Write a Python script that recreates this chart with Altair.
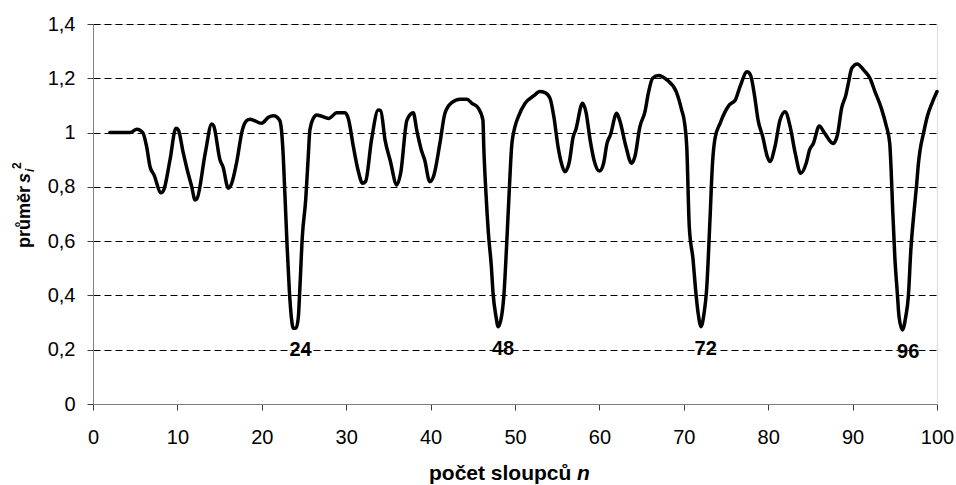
import altair as alt
import pandas as pd

# Mean of s_i^2 as a function of the number of columns n
n_values = [
    2.0, 4.4, 5.2, 5.9, 6.36, 6.75, 7.23, 8.06, 8.4, 9.12, 9.83, 10.1, 10.7, 11.17,
    11.7, 12.09, 12.3, 13.3, 14.06, 14.3, 15.05, 15.4, 16.03, 16.4, 17.0, 17.7, 18.2,
    18.6, 19.99, 20.77, 21.4, 22.1, 22.35, 22.5, 22.75, 23.0, 23.26, 23.5, 23.73,
    24.05, 24.33, 24.5, 24.8, 25.2, 25.5, 25.7, 26.1, 26.5, 27.1, 27.9, 28.9, 29.86,
    30.25, 30.85, 31.4, 31.95, 32.3, 33.0, 33.8, 34.1, 34.6, 35.2, 36.0, 36.45, 37.2,
    37.95, 38.35, 38.9, 39.3, 39.9, 40.4, 41.1, 41.7, 42.5, 43.5, 44.3, 44.9, 45.65,
    46.2, 46.3, 46.56, 46.85, 47.2, 47.4, 47.75, 48.0, 48.4, 48.7, 49.0, 49.4, 49.6,
    50.0, 50.4, 51.2, 52.2, 52.96, 53.55, 54.15, 54.6, 55.1, 55.5, 55.9, 56.4, 56.9,
    57.2, 58.0, 58.4, 58.9, 59.36, 60.0, 60.5, 60.9, 61.3, 62.05, 62.4, 63.15, 63.8,
    64.2, 64.8, 65.4, 65.8, 66.3, 67.0, 68.0, 69.1, 69.75, 70.1, 70.35, 70.65, 71.1,
    71.4, 71.7, 72.04, 72.4, 72.7, 73.1, 73.4, 73.7, 74.3, 74.9, 75.4, 76.1, 76.66,
    77.5, 77.9, 78.4, 78.8, 79.35, 79.9, 80.2, 80.8, 81.4, 82.0, 82.6, 83.2, 83.85,
    84.5, 84.9, 85.35, 86.05, 86.7, 87.7, 88.2, 88.7, 89.2, 89.5, 89.9, 90.55, 91.3,
    92.06, 92.65, 93.4, 93.96, 94.4, 94.55, 94.75, 95.0, 95.3, 95.5, 95.9, 96.3, 96.6,
    96.9, 97.3, 97.6, 97.8, 98.0, 98.4, 98.85, 99.4, 100.0,
]
s_values = [
    1.0, 1.0, 1.012, 1.0, 0.947, 0.875, 0.844, 0.778, 0.79, 0.899, 1.016, 1.01, 0.924, 0.862,
    0.80, 0.752, 0.755, 0.924, 1.032, 1.025, 0.899, 0.874, 0.795, 0.81, 0.887, 1.01, 1.044,
    1.049, 1.034, 1.056, 1.062, 1.046, 1.003, 0.936, 0.764, 0.58, 0.42, 0.32, 0.279,
    0.279, 0.32, 0.42, 0.616, 0.752, 0.91, 1.01, 1.052, 1.065, 1.06, 1.052, 1.073, 1.073,
    1.052, 0.948, 0.862, 0.813, 0.82, 0.973, 1.083, 1.08, 0.973, 0.899, 0.807, 0.85, 1.046,
    1.073, 1.01, 0.936, 0.899, 0.819, 0.844, 0.96, 1.071, 1.11, 1.123, 1.123, 1.108, 1.09,
    1.046, 0.948, 0.776, 0.629, 0.506, 0.408, 0.322, 0.285, 0.322, 0.408, 0.58, 0.838, 0.948,
    1.022, 1.059, 1.108, 1.135, 1.151, 1.147, 1.126, 1.059, 0.948, 0.887, 0.856, 0.887, 0.985,
    1.01, 1.108, 1.077, 0.973, 0.899, 0.858, 0.887, 0.96, 0.991, 1.071, 1.046, 0.948, 0.887,
    0.911, 1.022, 1.077, 1.145, 1.2, 1.21, 1.194, 1.151, 1.083, 1.034, 0.948, 0.653, 0.531,
    0.42, 0.334, 0.285, 0.334, 0.42, 0.678, 0.887, 0.979, 1.034, 1.077, 1.102, 1.12, 1.169,
    1.224, 1.212, 1.132, 1.046, 0.985, 0.911, 0.893, 0.948, 1.046, 1.077, 1.022, 0.924, 0.85,
    0.887, 0.936, 0.96, 1.024, 0.997, 0.96, 0.991, 1.09, 1.138, 1.182, 1.237, 1.253, 1.231,
    1.2, 1.151, 1.09, 1.028, 0.96, 0.874, 0.715, 0.543, 0.408, 0.322, 0.273, 0.322, 0.395,
    0.567, 0.715, 0.813, 0.887, 0.936, 0.997, 1.059, 1.108, 1.151,
]

# Deep minima, labelled with their n
dip_n = [24, 48, 72, 96]
dip_s = [0.279, 0.285, 0.285, 0.273]

x_ticks = list(range(0, 101, 10))
y_ticks = [0, 0.2, 0.4, 0.6, 0.8, 1.0, 1.2, 1.4]

W, H = 844, 380
FONT = "Liberation Sans"

curve = pd.DataFrame({"n": n_values, "s": s_values})
dips = pd.DataFrame({"n": dip_n, "s": dip_s, "label": [str(v) for v in dip_n]})

x_scale = alt.Scale(domain=[0, 100], nice=False, zero=False)
y_scale = alt.Scale(domain=[0, 1.4], nice=False)

line = alt.Chart(curve).mark_line(
    color="black", strokeWidth=3.5, strokeJoin="round", strokeCap="round",
    interpolate="monotone",
).encode(
    x=alt.X(
        "n:Q", scale=x_scale,
        axis=alt.Axis(
            values=x_ticks, title=None, grid=False, labelFontSize=20, labelFont=FONT,
            labelColor="black", labelPadding=17, tickSize=6, tickColor="#404040",
            domainColor="#808080", labelFlush=False,
        ),
    ),
    y=alt.Y(
        "s:Q", scale=y_scale,
        axis=alt.Axis(
            values=y_ticks, title=None, grid=True, gridDash=[7, 4], gridColor="black",
            gridWidth=1, labelFontSize=20, labelFont=FONT, labelColor="black",
            labelPadding=12, tickSize=6, tickColor="#404040", domainColor="#808080",
            labelExpr="replace(format(datum.value, '.1~f'), '.', ',')",
        ),
    ),
)

dip_labels = alt.Chart(dips).mark_text(
    font=FONT, fontSize=20, fontWeight="bold", color="black", dx=5, dy=22, baseline="middle"
).encode(x=alt.X("n:Q", scale=x_scale), y=alt.Y("s:Q", scale=y_scale), text="label:N")


def title_piece(text, x, y, size=20, style="normal", angle=0, align="left"):
    return alt.Chart(pd.DataFrame({"t": [text]})).mark_text(
        font=FONT, fontSize=size, fontWeight="bold", fontStyle=style, color="black",
        align=align, baseline="alphabetic", angle=angle,
    ).encode(x=alt.value(x), y=alt.value(y), text="t:N")


# x-axis title: "počet sloupců n"
x_title = title_piece("počet sloupců", 336, 456, size=21) + title_piece(
    "n", 484, 456, size=21, style="italic"
)

# y-axis title: "průměr  s_i^2", read bottom to top
y_title = (
    title_piece("průměr", -63, 224, size=18, angle=270)
    + title_piece("s", -63, 159, size=18, style="italic", angle=270)
    + title_piece("i", -59, 148, size=12, style="italic", angle=270)
    + title_piece("2", -72, 145, size=12, angle=270)
)

chart = alt.layer(line, dip_labels, x_title, y_title).properties(
    width=W, height=H,
    padding={"left": 93, "top": 24, "right": 19, "bottom": 81},
    autosize=alt.AutoSizeParams(type="none"),
).configure_view(stroke=None).configure(background="white")

chart.save("out.html", embed_options={"renderer": "svg", "actions": False})
